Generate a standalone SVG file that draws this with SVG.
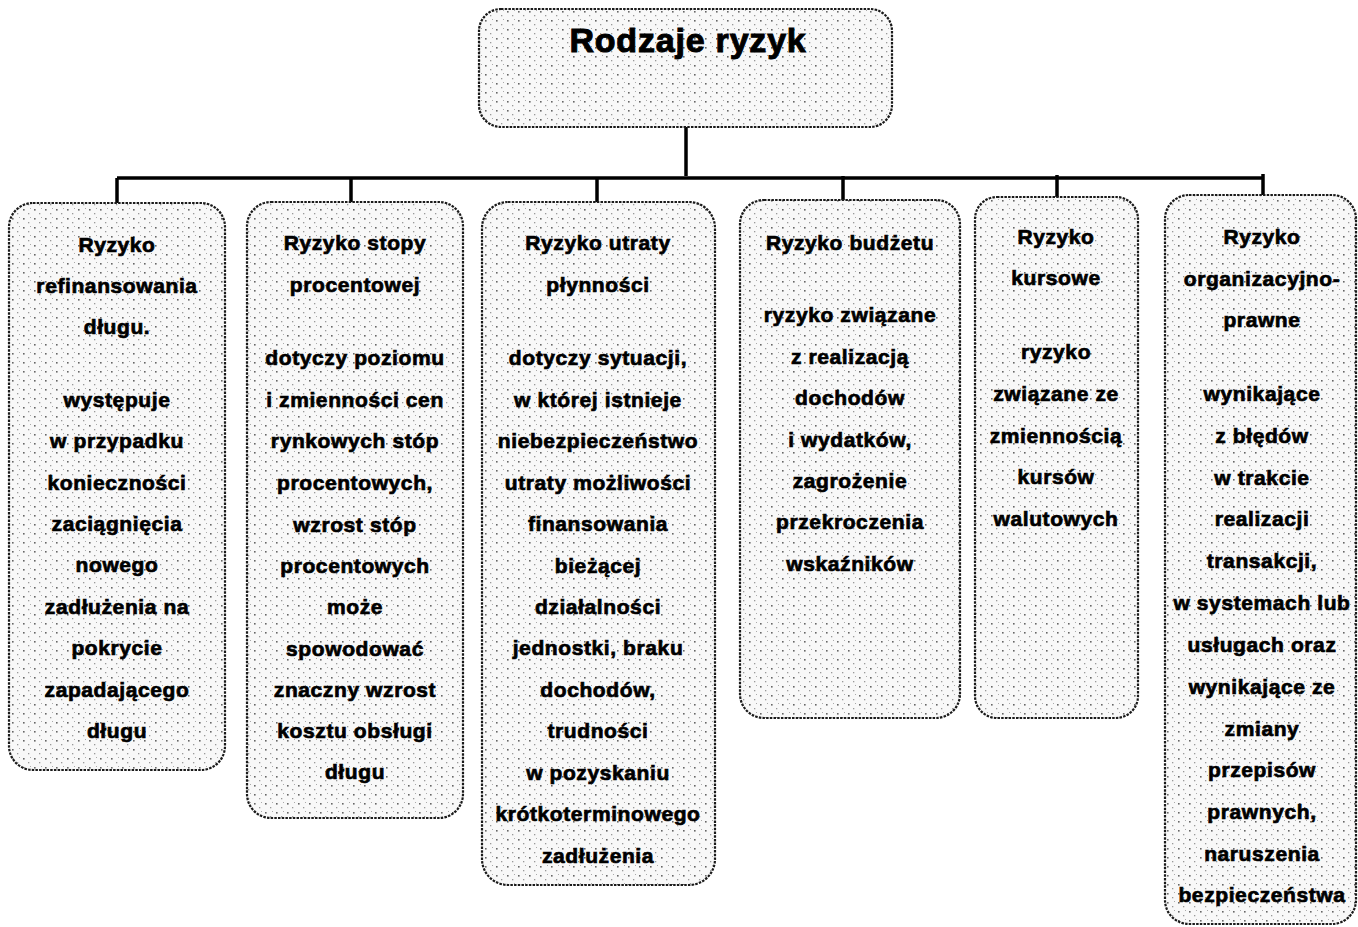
<svg xmlns="http://www.w3.org/2000/svg" width="1358" height="927" viewBox="0 0 1358 927">
<defs>
<pattern id="speck" width="11" height="9" patternUnits="userSpaceOnUse">
<rect width="11" height="9" fill="#f8f8f8"/>
<rect x="1" y="2" width="1.6" height="1.6" fill="#666"/>
<rect x="6" y="6" width="1.3" height="1.3" fill="#999"/>
<rect x="8" y="1" width="1" height="1" fill="#aaa"/>
</pattern>
<style>
.box{fill:url(#speck);stroke:#1a1a1a;stroke-width:2.2;stroke-dasharray:2.5 1.2}
.t{font-family:"Liberation Sans",Arial,sans-serif;font-weight:bold;font-size:21px;letter-spacing:0.6px;text-anchor:middle;fill:#000;stroke:#000;stroke-width:0.7px}
.title{font-family:"Liberation Sans",Arial,sans-serif;font-weight:bold;font-size:34px;letter-spacing:0.8px;text-anchor:middle;fill:#000;stroke:#000;stroke-width:1px}
.c{fill:none;stroke:#000;stroke-width:3.5}
</style>
</defs>
<rect width="1358" height="927" fill="#fff"/>
<g id="connectors">
<path class="c" d="M686 127 V176"/>
<path class="c" d="M117 178 H1263"/>
<path class="c" d="M117 178 V203"/>
<path class="c" d="M351 177 V202"/>
<path class="c" d="M597 177 V202"/>
<path class="c" d="M843 176 V200"/>
<path class="c" d="M1057 175 V198"/>
<path class="c" d="M1263 174 V196"/>
</g>
<g id="root">
<rect class="box" x="479" y="9" width="413" height="118" rx="22"/>
<text class="title" x="688" y="52">Rodzaje ryzyk</text>
</g>
<g id="n1">
<rect class="box" x="9" y="203" width="216" height="567" rx="24"/>
<text class="t" x="117"><tspan x="117" y="252">Ryzyko</tspan><tspan x="117" y="293">refinansowania</tspan><tspan x="117" y="334">długu.</tspan><tspan x="117" y="407">występuje</tspan><tspan x="117" y="448">w przypadku</tspan><tspan x="117" y="490">konieczności</tspan><tspan x="117" y="531">zaciągnięcia</tspan><tspan x="117" y="572">nowego</tspan><tspan x="117" y="614">zadłużenia na</tspan><tspan x="117" y="655">pokrycie</tspan><tspan x="117" y="697">zapadającego</tspan><tspan x="117" y="738">długu</tspan></text>
</g>
<g id="n2">
<rect class="box" x="247" y="202" width="216" height="616" rx="24"/>
<text class="t" x="355"><tspan x="355" y="250">Ryzyko stopy</tspan><tspan x="355" y="292">procentowej</tspan><tspan x="355" y="365">dotyczy poziomu</tspan><tspan x="355" y="407">i zmienności cen</tspan><tspan x="355" y="448">rynkowych stóp</tspan><tspan x="355" y="490">procentowych,</tspan><tspan x="355" y="532">wzrost stóp</tspan><tspan x="355" y="573">procentowych</tspan><tspan x="355" y="614">może</tspan><tspan x="355" y="656">spowodować</tspan><tspan x="355" y="697">znaczny wzrost</tspan><tspan x="355" y="738">kosztu obsługi</tspan><tspan x="355" y="779">długu</tspan></text>
</g>
<g id="n3">
<rect class="box" x="482" y="202" width="233" height="683" rx="26"/>
<text class="t" x="598"><tspan x="598" y="250">Ryzyko utraty</tspan><tspan x="598" y="292">płynności</tspan><tspan x="598" y="365">dotyczy sytuacji,</tspan><tspan x="598" y="407">w której istnieje</tspan><tspan x="598" y="448">niebezpieczeństwo</tspan><tspan x="598" y="490">utraty możliwości</tspan><tspan x="598" y="531">finansowania</tspan><tspan x="598" y="573">bieżącej</tspan><tspan x="598" y="614">działalności</tspan><tspan x="598" y="655">jednostki, braku</tspan><tspan x="598" y="697">dochodów,</tspan><tspan x="598" y="738">trudności</tspan><tspan x="598" y="780">w pozyskaniu</tspan><tspan x="598" y="821">krótkoterminowego</tspan><tspan x="598" y="863">zadłużenia</tspan></text>
</g>
<g id="n4">
<rect class="box" x="740" y="200" width="220" height="518" rx="24"/>
<text class="t" x="850"><tspan x="850" y="250">Ryzyko budżetu</tspan><tspan x="850" y="322">ryzyko związane</tspan><tspan x="850" y="364">z realizacją</tspan><tspan x="850" y="405">dochodów</tspan><tspan x="850" y="447">i wydatków,</tspan><tspan x="850" y="488">zagrożenie</tspan><tspan x="850" y="529">przekroczenia</tspan><tspan x="850" y="571">wskaźników</tspan></text>
</g>
<g id="n5">
<rect class="box" x="975" y="197" width="163" height="521" rx="22"/>
<text class="t" x="1056"><tspan x="1056" y="244">Ryzyko</tspan><tspan x="1056" y="285">kursowe</tspan><tspan x="1056" y="359">ryzyko</tspan><tspan x="1056" y="401">związane ze</tspan><tspan x="1056" y="443">zmiennością</tspan><tspan x="1056" y="484">kursów</tspan><tspan x="1056" y="526">walutowych</tspan></text>
</g>
<g id="n6">
<rect class="box" x="1165" y="195" width="191" height="729" rx="24"/>
<text class="t" x="1262"><tspan x="1262" y="244">Ryzyko</tspan><tspan x="1262" y="286">organizacyjno-</tspan><tspan x="1262" y="327">prawne</tspan><tspan x="1262" y="401">wynikające</tspan><tspan x="1262" y="443">z błędów</tspan><tspan x="1262" y="485">w trakcie</tspan><tspan x="1262" y="526">realizacji</tspan><tspan x="1262" y="568">transakcji,</tspan><tspan x="1262" y="610">w systemach lub</tspan><tspan x="1262" y="652">usługach oraz</tspan><tspan x="1262" y="694">wynikające ze</tspan><tspan x="1262" y="736">zmiany</tspan><tspan x="1262" y="777">przepisów</tspan><tspan x="1262" y="819">prawnych,</tspan><tspan x="1262" y="861">naruszenia</tspan><tspan x="1262" y="902">bezpieczeństwa</tspan></text>
</g>
</svg>
